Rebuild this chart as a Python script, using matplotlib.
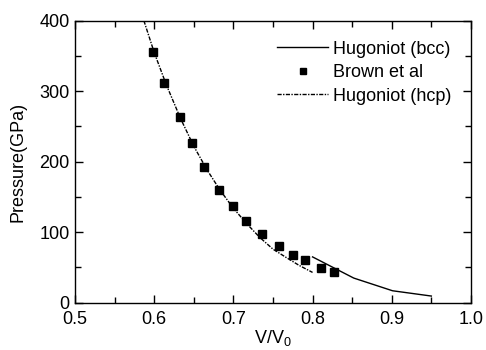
import matplotlib
matplotlib.use('Agg')
import matplotlib.pyplot as plt
import numpy as np

plt.rcParams['font.family'] = ['Liberation Sans', 'DejaVu Sans']
plt.rcParams['mathtext.default'] = 'regular'

# Brown et al data
brown_v = [0.599, 0.613, 0.632, 0.648, 0.663, 0.682, 0.699, 0.716, 0.736, 0.758,
           0.775, 0.791, 0.811, 0.827]
brown_p = [356, 311, 264, 226, 193, 160, 137, 116, 97, 80, 68, 60, 49, 43]

# Hugoniot (hcp)
hcp_v = [0.587, 0.600, 0.615, 0.633, 0.650, 0.667, 0.683, 0.700, 0.717, 0.733,
         0.750, 0.767, 0.783, 0.800]
hcp_p = [400, 355, 310, 262, 222, 188, 160, 134, 112, 93, 76, 64, 53, 43]

# Hugoniot (bcc)
bcc_v = [0.800, 0.826, 0.852, 0.901, 0.950]
bcc_p = [65, 50, 35, 17, 9.5]

fig = plt.figure(figsize=(4.86, 3.5), dpi=100)
ax = fig.add_axes([0.1543, 0.135, 0.8147, 0.806])

ax.plot(bcc_v, bcc_p, color='black', linewidth=1.0, label='Hugoniot (bcc)')
ax.plot(brown_v, brown_p, linestyle='none', marker='s', markersize=5.2,
        color='black', label='Brown et al')
ax.plot(hcp_v, hcp_p, color='black', linewidth=1.0, dashes=(3, 1, 1, 1),
        label='Hugoniot (hcp)')

ax.set_xlim(0.5, 1.0)
ax.set_ylim(0, 400)
ax.set_xticks(np.arange(0.5, 1.01, 0.1))
ax.set_xticks(np.arange(0.55, 1.0, 0.1), minor=True)
ax.set_yticks(np.arange(0, 401, 100))
ax.set_yticks(np.arange(50, 400, 100), minor=True)
ax.xaxis.set_major_formatter(plt.FormatStrFormatter('%.1f'))

ax.tick_params(which='both', direction='in', top=True, right=True,
               labelsize=13, width=1.0)
ax.tick_params(which='major', length=6)
ax.tick_params(axis='x', which='major', pad=6)
ax.tick_params(axis='y', which='major', pad=4)
ax.tick_params(which='minor', length=4)
for s in ax.spines.values():
    s.set_linewidth(1.0)

ax.set_xlabel('V/V$_0$', fontsize=13, labelpad=0)
ax.set_ylabel('Pressure(GPa)', fontsize=13, labelpad=9)

ax.legend(loc='upper right', bbox_to_anchor=(0.97, 0.955), frameon=False,
          fontsize=13, handlelength=2.8, handletextpad=0.3, labelspacing=0.36,
          borderaxespad=0, markerscale=0.75)

plt.savefig('out.png', dpi=100)
